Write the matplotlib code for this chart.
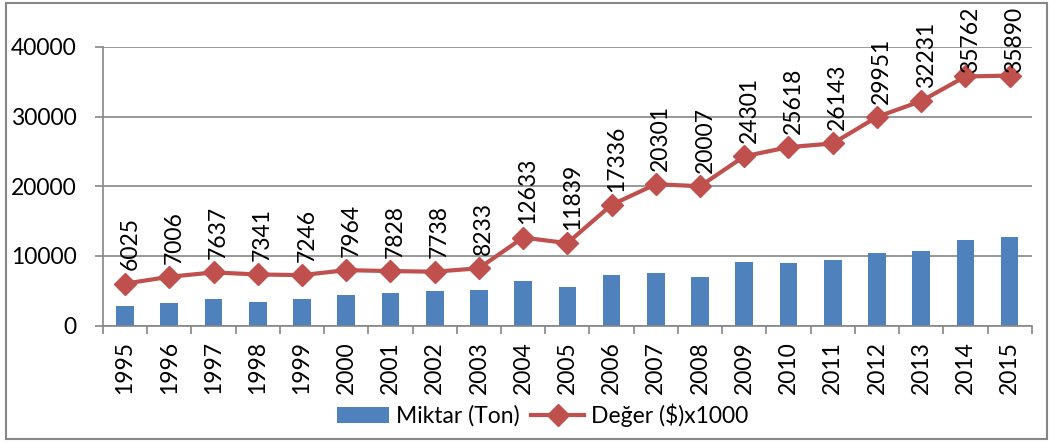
import matplotlib
matplotlib.use("Agg")
import matplotlib.pyplot as plt
from matplotlib.patches import Rectangle
import numpy as np

years = [str(y) for y in range(1995, 2016)]
miktar = [2840, 3270, 3800, 3415, 3800, 4420, 4620, 4950, 5090, 6380, 5550,
          7320, 7560, 6990, 9100, 8950, 9380, 10470, 10670, 12300, 12770]
deger = [6025, 7006, 7637, 7341, 7246, 7964, 7828, 7738, 8233, 12633, 11839,
         17336, 20301, 20007, 24301, 25618, 26143, 29951, 32231, 35762, 35890]

bar_color = '#4F81BD'
line_color = '#C0504D'
grid_color = '#868686'

plt.rcParams['font.family'] = ['Lato', 'DejaVu Sans']
plt.rcParams['font.size'] = 16.5

fig = plt.figure(figsize=(10.53, 4.43), dpi=100)
ax = fig.add_axes([0.0978, 0.265, 0.882, 0.629])

x = np.arange(len(years))
bars = ax.bar(x, miktar, width=0.4, color=bar_color, label='Miktar (Ton)', zorder=2)
line, = ax.plot(x, deger, color=line_color, lw=3, marker='D', markersize=11,
                label='Değer ($)x1000', zorder=3)

# labels sit above each point; Excel pushes the top ones down to stay inside the chart
for xi, v in zip(x, deger):
    ylab = min(v + 1900, 36200)
    ax.annotate(str(v), (xi, ylab), xytext=(3.5, 0), textcoords='offset points',
                rotation=90, ha='center', va='bottom',
                annotation_clip=False, zorder=4)

ax.set_xlim(-0.5, len(years) - 0.5)
ax.set_ylim(0, 40000)
ax.set_yticks([0, 10000, 20000, 30000, 40000])
ax.yaxis.grid(True, color=grid_color, lw=1.2, zorder=0)

ax.set_xticks(x)
ax.set_xticklabels(years, rotation=90)
ax.set_xticks(np.arange(len(years) + 1) - 0.5, minor=True)
ax.tick_params(axis='x', which='major', length=0, pad=11)
ax.tick_params(axis='x', which='minor', length=6, color=grid_color, width=1.2)
ax.tick_params(axis='y', length=6, color=grid_color, width=1.2, pad=13)

for side in ['top', 'right']:
    ax.spines[side].set_visible(False)
for side in ['left', 'bottom']:
    ax.spines[side].set_color(grid_color)
    ax.spines[side].set_linewidth(1.2)

fig.legend([bars, line], ['Miktar (Ton)', 'Değer ($)x1000'],
           loc='lower center', bbox_to_anchor=(0.515, -0.01), ncol=2,
           frameon=False, handlelength=2.3, handleheight=0.7,
           columnspacing=0.5, handletextpad=0.3)

fig.patches.append(Rectangle((0.006, 0.01), 0.988, 0.983, transform=fig.transFigure,
                             fill=False, edgecolor=grid_color, lw=1.5))

fig.savefig('out.png', dpi=100)
